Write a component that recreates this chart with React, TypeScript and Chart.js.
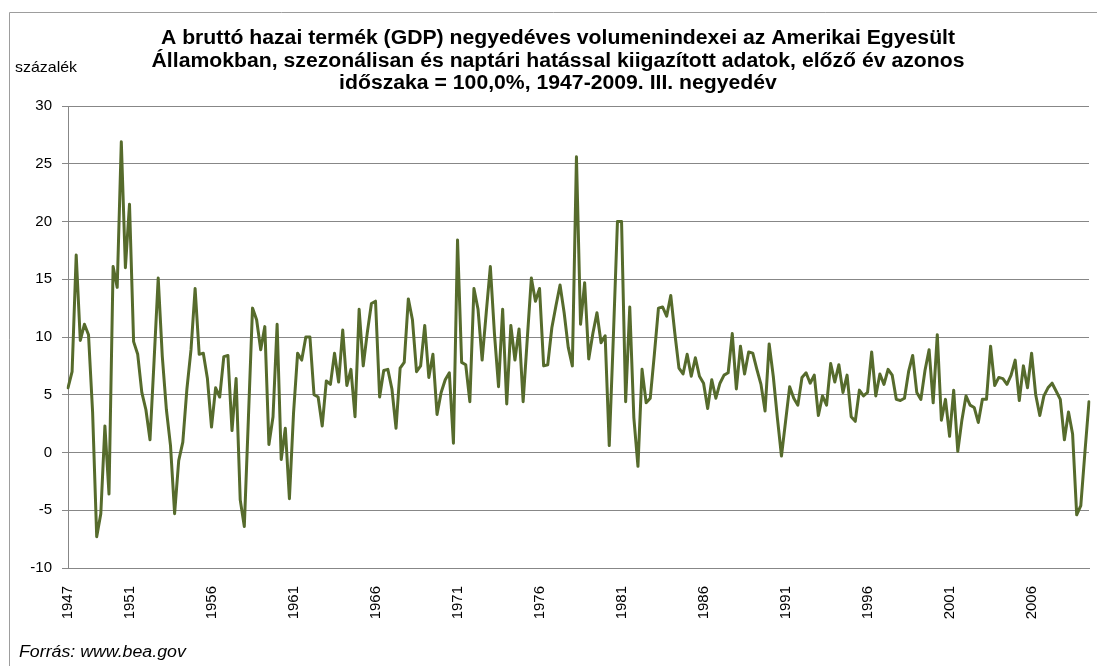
import React, { useEffect, useRef } from 'react';
import { Chart, registerables } from 'chart.js';

Chart.register(...registerables);

// First observation: 1947, 2nd quarter; last: 2009, 3rd quarter
const START_YEAR = 1947;
const START_QUARTER = 2;

// Year-over-year volume index change, % (previous year same period = 100%)
const gdpIndex: number[] = [
  5.6, 7.0, 17.1, 9.7, 11.1, 10.2, 3.5, -7.3, -5.3, 2.3,
  -3.6, 16.1, 14.3, 26.9, 16.0, 21.5, 9.6, 8.5, 5.2, 3.7,
  1.1, 8.0, 15.1, 8.3, 3.7, 0.6, -5.3, -0.7, 0.9, 5.5,
  8.9, 14.2, 8.5, 8.6, 6.4, 2.2, 5.6, 4.8, 8.3, 8.4,
  1.9, 6.4, -4.1, -6.4, 3.0, 12.5, 11.5, 8.9, 10.9, 0.7,
  3.1, 11.1, -0.6, 2.1, -4.0, 3.4, 8.6, 8.0, 10.0, 10.0,
  5.0, 4.8, 2.3, 6.2, 5.9, 8.6, 6.1, 10.6, 5.8, 7.2,
  3.1, 12.4, 7.5, 10.4, 12.9, 13.1, 4.8, 7.1, 7.2, 5.5,
  2.1, 7.3, 7.8, 13.3, 11.5, 7.0, 7.5, 11.0, 6.5, 8.5,
  3.3, 5.2, 6.3, 6.9, 0.8, 18.4, 7.8, 7.6, 4.4, 14.2,
  12.4, 8.0, 12.1, 16.1, 10.3, 5.7, 12.4, 4.2, 11.0, 8.0,
  10.7, 4.4, 9.8, 15.1, 13.1, 14.2, 7.5, 7.6, 10.8, 12.7,
  14.5, 12.1, 9.1, 7.5, 25.6, 11.1, 14.7, 8.1, 10.3, 12.1,
  9.5, 10.1, 0.6, 10.0, 20.0, 20.0, 4.4, 12.6, 3.0, -1.2,
  7.2, 4.3, 4.7, 8.5, 12.5, 12.6, 11.8, 13.6, 10.3, 7.3,
  6.8, 8.5, 6.6, 8.2, 6.6, 6.0, 3.8, 6.3, 4.7, 6.0,
  6.7, 6.9, 10.3, 5.5, 9.2, 6.8, 8.7, 8.6, 7.2, 5.9,
  3.6, 9.4, 6.6, 3.0, -0.3, 2.7, 5.7, 4.7, 4.1, 6.5,
  6.9, 6.0, 6.7, 3.2, 4.9, 4.1, 7.7, 6.1, 7.6, 5.2,
  6.7, 3.1, 2.7, 5.4, 4.9, 5.2, 8.7, 4.9, 6.8, 5.9,
  7.2, 6.7, 4.6, 4.5, 4.7, 7.0, 8.4, 5.2, 4.6, 7.1,
  8.9, 4.3, 10.2, 2.8, 4.6, 1.4, 5.4, 0.1, 2.8, 4.9,
  4.1, 3.9, 2.6, 4.6, 4.6, 9.2, 5.8, 6.5, 6.4, 5.9,
  6.7, 8.0, 4.5, 7.5, 5.6, 8.6, 5.0, 3.2, 4.9, 5.6,
  6.0, 5.3, 4.6, 1.1, 3.5, 1.6, -5.4, -4.6, 0.0, 4.4,
];

// Years labelled on the category axis (at the first point and at 1st quarters)
const tickYears: number[] = [1947, 1951, 1956, 1961, 1966, 1971, 1976, 1981, 1986, 1991, 1996, 2001, 2006];

const titleLines: string[] = [
  'A bruttó hazai termék (GDP) negyedéves volumenindexei az Amerikai Egyesült',
  'Államokban, szezonálisan és naptári hatással kiigazított adatok, előző év azonos',
  'időszaka = 100,0%, 1947-2009. III. negyedév',
];
const unitLabel = 'százalék';
const sourceLabel = 'Forrás: www.bea.gov';

const ROMAN = ['I', 'II', 'III', 'IV'];
const quarterYears = gdpIndex.map((_, i) => START_YEAR + Math.floor((START_QUARTER - 1 + i) / 4));
const quarterNums = gdpIndex.map((_, i) => ((START_QUARTER - 1 + i) % 4) + 1);
const categories = gdpIndex.map((_, i) => `${quarterYears[i]}. ${ROMAN[quarterNums[i] - 1]}. n.év`);

const FONT = '"Liberation Sans", Arial, Helvetica, sans-serif';
const LINE_COLOR = '#566b2c';
const GRID_COLOR = '#878787';

function drawScaledText(ctx: CanvasRenderingContext2D, text: string, x: number, y: number, sx: number) {
  ctx.save();
  ctx.translate(x, y);
  ctx.scale(sx, 1);
  ctx.fillText(text, 0, 0);
  ctx.restore();
}

const decorPlugin = {
  id: 'decor',
  beforeDraw(chart: any) {
    const ctx: CanvasRenderingContext2D = chart.ctx;
    ctx.save();
    ctx.strokeStyle = '#9d9d9d';
    ctx.lineWidth = 1;
    ctx.beginPath();
    ctx.moveTo(9.5, 700);
    ctx.lineTo(9.5, 12.5);
    ctx.lineTo(1300, 12.5);
    ctx.stroke();
    ctx.restore();
  },
  afterDraw(chart: any) {
    const ctx: CanvasRenderingContext2D = chart.ctx;
    ctx.save();
    ctx.fillStyle = '#000000';
    ctx.textBaseline = 'alphabetic';
    ctx.textAlign = 'center';
    ctx.font = `bold 20px ${FONT}`;
    const baselines = [44, 66.5, 89];
    titleLines.forEach((t, i) => drawScaledText(ctx, t, 558, baselines[i], 1.06));
    ctx.textAlign = 'left';
    ctx.font = `14.5px ${FONT}`;
    drawScaledText(ctx, unitLabel, 15, 72, 1.1);
    ctx.font = `italic 16px ${FONT}`;
    drawScaledText(ctx, sourceLabel, 19, 657, 1.11);
    ctx.restore();
  },
};

export default function App() {
  const canvasRef = useRef<HTMLCanvasElement | null>(null);

  useEffect(() => {
    const canvas = canvasRef.current;
    if (!canvas) return;
    const chart = new Chart(canvas, {
      type: 'line',
      data: {
        labels: categories,
        datasets: [
          {
            label: 'GDP volumenindex',
            data: gdpIndex,
            borderColor: LINE_COLOR,
            backgroundColor: LINE_COLOR,
            borderWidth: 3,
            pointRadius: 0,
            pointHoverRadius: 0,
            tension: 0,
            borderJoinStyle: 'round',
            borderCapStyle: 'round',
            fill: false,
          },
        ],
      },
      options: {
        responsive: false,
        animation: false,
        devicePixelRatio: 1,
        layout: {
          autoPadding: false,
          padding: { top: 106, left: 0, right: 8, bottom: 0 },
        },
        plugins: {
          legend: { display: false },
          title: { display: false },
          tooltip: { enabled: false },
        },
        scales: {
          x: {
            type: 'category',
            offset: false,
            grid: { display: false, drawTicks: false },
            border: { display: true, color: GRID_COLOR, width: 1 },
            ticks: {
              autoSkip: false,
              maxRotation: 90,
              minRotation: 90,
              padding: 18,
              color: '#000000',
              font: { family: FONT, size: 15 },
              callback: (_value: any, index: number) => {
                if (index === 0) return String(quarterYears[0]);
                if (quarterNums[index] === 1 && tickYears.includes(quarterYears[index])) {
                  return String(quarterYears[index]);
                }
                return '';
              },
            },
            afterFit: (scale: any) => {
              scale.height = 98;
              scale.paddingLeft = 0;
              scale.paddingRight = 0;
            },
          },
          y: {
            type: 'linear',
            min: -10,
            max: 30,
            grid: {
              color: GRID_COLOR,
              lineWidth: 1,
              drawTicks: true,
              tickLength: 6,
            },
            border: { display: true, color: GRID_COLOR, width: 1 },
            ticks: {
              stepSize: 5,
              padding: 10,
              color: '#000000',
              font: { family: FONT, size: 15 },
            },
            afterFit: (scale: any) => {
              scale.width = 68;
              scale.paddingTop = 0;
              scale.paddingBottom = 0;
            },
          },
        },
      },
      plugins: [decorPlugin],
    });
    return () => {
      chart.destroy();
    };
  }, []);

  return (
    <div style={{ position: 'absolute', left: 0, top: 0, width: 1097, height: 666, background: '#ffffff' }}>
      <canvas ref={canvasRef} width={1097} height={666} style={{ display: 'block', width: 1097, height: 666 }} />
    </div>
  );
}
